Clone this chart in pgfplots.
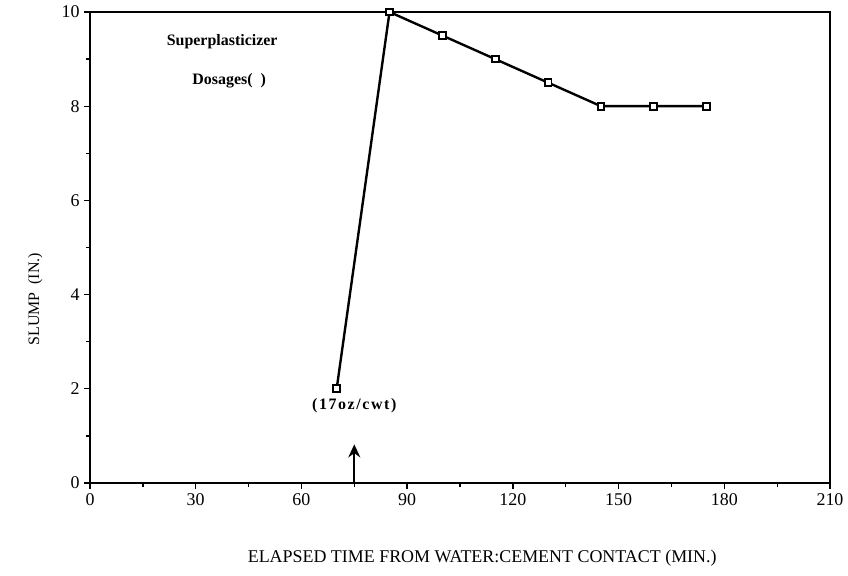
\documentclass[border=0pt]{standalone}
\usepackage{pgfplots}
\pgfplotsset{compat=1.18}
\usetikzlibrary{arrows.meta}
\usepackage{fontspec}
\setmainfont{Liberation Serif}
\begin{document}
\begin{tikzpicture}[x=1bp,y=1bp]
\begin{axis}[
    scale only axis,
    width=740bp, height=471bp,
    xmin=0, xmax=210, ymin=0, ymax=10,
    xtick={0,30,...,210}, ytick={0,2,...,10},
    minor xtick={15,45,...,195}, minor ytick={1,3,...,9},
    xtick pos=left, ytick pos=left,
    tick align=outside,
    major tick length=6bp, minor tick length=4bp,
    every tick/.style={black, line width=1.3pt},
    axis line style={line width=1.8pt},
    /pgf/number format/assume math mode=true,
    ticklabel style={font=\fontsize{18}{20}\selectfont},
    xticklabel style={yshift=-1bp},
    yticklabel style={xshift=-1bp},
    xlabel={ELAPSED TIME FROM WATER:CEMENT CONTACT (MIN.)},
    ylabel={SLUMP\ \ (IN.)},
    xlabel style={font=\fontsize{18}{20}\selectfont, at={(axis description cs:0.53,-0.16)}, anchor=center},
    ylabel style={font=\fontsize{16}{18}\selectfont, at={(axis description cs:-0.074,0.39)}, anchor=center},
    clip=false,
]
\addplot[black, line width=2.4pt, mark=square*, mark size=3.4bp,
    mark options={fill=white, draw=black, line width=2pt}]
    coordinates {(70,2) (85,10) (100,9.5) (115,9) (130,8.5) (145,8) (160,8) (175,8)};
\draw[-{Stealth[length=13bp,width=12bp]}, line width=2pt] (axis cs:75,0) -- (axis cs:75,0.82);
\node[font=\fontsize{16}{18}\selectfont\bfseries\addfontfeature{LetterSpace=10}] at (axis cs:75,1.65) {(17oz/cwt)};
\node[font=\fontsize{16}{18}\selectfont\bfseries] at (axis cs:37.5,9.38) {Superplasticizer};
\node[font=\fontsize{16}{18}\selectfont\bfseries] at (axis cs:39.5,8.55) {Dosages(\hspace{8bp})};
\end{axis}
\path ([shift={(-90bp,-93bp)}]current axis.south west) rectangle ([shift={(18bp,12bp)}]current axis.north east);
\end{tikzpicture}
\end{document}
